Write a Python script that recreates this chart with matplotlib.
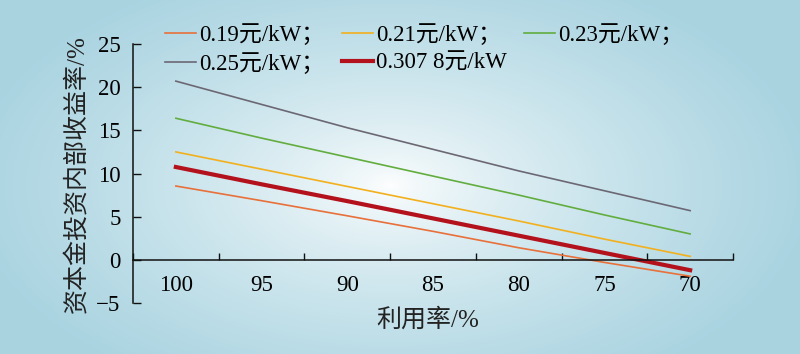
import numpy as np
import matplotlib
matplotlib.use('Agg')
import matplotlib.pyplot as plt

plt.rcParams['font.family'] = ['Liberation Serif', 'Noto Sans CJK SC']
plt.rcParams['axes.unicode_minus'] = True

# ---- data ----
utilization = [100, 95, 90, 85, 80, 75, 70]
irr_019 = [8.55, 6.85, 5.1, 3.3, 1.4, -0.3, -1.9]
irr_021 = [12.5, 10.5, 8.5, 6.5, 4.5, 2.4, 0.4]
irr_023 = [16.4, 14.1, 11.9, 9.7, 7.5, 5.2, 3.0]
irr_025 = [20.7, 18.0, 15.3, 12.8, 10.3, 8.0, 5.7]
irr_03078 = [10.75, 8.75, 6.8, 4.8, 2.8, 0.8, -1.2]
labels = ['0.19元/kW；', '0.21元/kW；', '0.23元/kW；', '0.25元/kW；', '0.307 8元/kW']
yticks = [-5, 0, 5, 10, 15, 20, 25]

W, H = 800, 354
fig = plt.figure(figsize=(W / 100, H / 100), dpi=100)

# background radial gradient
bg = fig.add_axes([0, 0, 1, 1], zorder=-10)
yy, xx = np.mgrid[0:H, 0:W]
cx, cy, rx, ry = 390, 185, 420, 230
r = np.sqrt(((xx - cx) / rx) ** 2 + ((yy - cy) / ry) ** 2)
t = np.clip(r, 0, 1) ** 0.7
edge = np.array([0.667, 0.831, 0.882])
img = (1 - t)[..., None] * np.ones(3) + t[..., None] * edge
bg.imshow(img, aspect='auto', extent=[0, 1, 0, 1], origin='upper')
bg.axis('off')

ax = fig.add_axes([133 / W, 1 - 303 / H, 600 / W, 259 / H])
ax.set_facecolor('none')
x = np.arange(len(utilization))
l1, = ax.plot(x, irr_019, color='#e8703a', lw=1.2, label=labels[0])
l2, = ax.plot(x, irr_021, color='#f2b01e', lw=1.2, label=labels[1])
l3, = ax.plot(x, irr_023, color='#62ad3f', lw=1.2, label=labels[2])
l4, = ax.plot(x, irr_025, color='#6b6874', lw=1.2, label=labels[3])
l5, = ax.plot(x, irr_03078, color='#b3121d', lw=3.0, label=labels[4])

ax.set_xlim(-0.5, len(utilization) - 0.5)
ax.set_ylim(-5, 25)
for s in ['top', 'right']:
    ax.spines[s].set_visible(False)
ax.spines['bottom'].set_position(('data', 0))
for s in ['left', 'bottom']:
    ax.spines[s].set_linewidth(1.1)
    ax.spines[s].set_color('#111111')

ax.set_xticks(np.arange(-0.5, len(utilization), 1))
ax.set_xticklabels([])
ax.set_xticks(x, minor=True)
ax.set_xticklabels([str(u) for u in utilization], minor=True)
ax.tick_params(axis='x', which='major', direction='in', length=5, width=1, color='#111111')
ax.tick_params(axis='x', which='minor', length=0, pad=11, labelsize=16.5)
ax.set_yticks(yticks)
ax.tick_params(axis='y', direction='in', length=6, width=1, pad=9, labelsize=16.5, color='#111111')

fig.text(77 / W, 1 - 174 / H, '资本金投资内部收益率/%', rotation=90, ha='center', va='center',
         fontsize=18, color='#222222')
fig.text(428 / W, 1 - 320 / H, '利用率/%', ha='center', va='center', fontsize=18, color='#222222')

handles = [l1, l4, l2, l5, l3]
fig.legend(handles, [h.get_label() for h in handles], ncol=3, loc='upper left',
           bbox_to_anchor=(165 / W, 1 - 24 / H), frameon=False, fontsize=16.5,
           borderpad=0, borderaxespad=0, handlelength=1.35, handletextpad=0.15,
           columnspacing=0.75, labelspacing=0.3)

fig.savefig('out.png', dpi=100)
